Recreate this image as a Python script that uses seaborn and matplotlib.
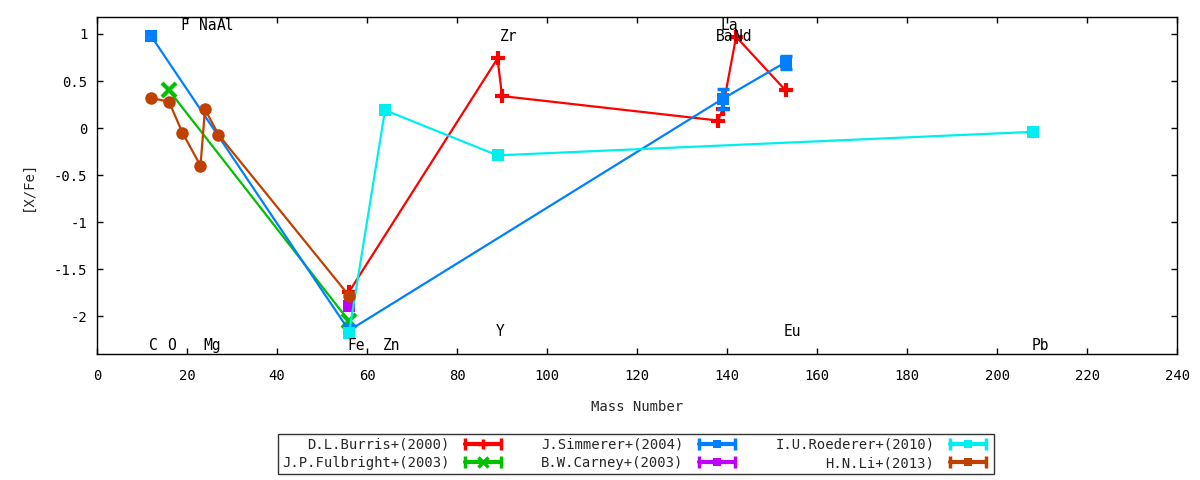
import matplotlib
matplotlib.use('Agg')
import matplotlib.pyplot as plt
import seaborn as sns
import pandas as pd
from matplotlib.lines import Line2D
from matplotlib.legend_handler import HandlerLine2D, HandlerTuple

# [X/Fe] against mass number, one list pair per paper
burris_mass = [56, 89, 90, 138, 139, 142, 153]
burris_xfe = [-1.74, 0.74, 0.34, 0.08, 0.20, 0.97, 0.40]

fulbright_mass = [16, 56]
fulbright_xfe = [0.40, -2.05]

simmerer_mass = [12, 56, 139, 153]
simmerer_xfe = [0.98, -2.15, 0.31, 0.70]
simmerer_err = [0.0, 0.0, 0.11, 0.07]

carney_mass = [56]
carney_xfe = [-1.89]

roederer_mass = [56, 64, 89, 208]
roederer_xfe = [-2.18, 0.19, -0.29, -0.04]

li_mass = [12, 16, 19, 23, 24, 27, 56]
li_xfe = [0.32, 0.28, -0.05, -0.40, 0.20, -0.07, -1.78]

# element labels: name, mass number, height
elem_names = ['C', 'O', 'F', 'Na', 'Mg', 'Al', 'Fe', 'Zn', 'Y', 'Zr',
              'Ba', 'La', 'Nd', 'Eu', 'Pb']
elem_mass = [12, 16, 19, 23, 24, 27, 56, 64, 89, 90, 138, 139, 142, 153, 208]
elem_y = [-2.31, -2.31, 1.085, 1.085, -2.31, 1.085, -2.31, -2.31, -2.16, 0.97,
          0.97, 1.085, 0.97, -2.16, -2.31]

series = [
    ('D.L.Burris+(2000)', burris_mass, burris_xfe, '#ff0000', '+'),
    ('J.P.Fulbright+(2003)', fulbright_mass, fulbright_xfe, '#00c000', 'x'),
    ('J.Simmerer+(2004)', simmerer_mass, simmerer_xfe, '#0080ff', 's'),
    ('B.W.Carney+(2003)', carney_mass, carney_xfe, '#c000ff', 's'),
    ('I.U.Roederer+(2010)', roederer_mass, roederer_xfe, '#00eeee', 's'),
    ('H.N.Li+(2013)', li_mass, li_xfe, '#c04000', 'o'),
]

sns.set_theme(style='ticks')
plt.rcParams['font.family'] = ['DejaVu Sans Mono']
plt.rcParams['font.size'] = 9.5

fig = plt.figure(figsize=(12, 4.8), dpi=100)
ax = fig.add_axes([0.0808, 0.2625, 0.9002, 0.7021])

handles = []
labels = []
hmap = {}
for name, mass, xfe, col, mk in series:
    df = pd.DataFrame({'mass': mass, 'xfe': xfe})
    sns.lineplot(data=df, x='mass', y='xfe', color=col, sort=False,
                 estimator=None, linewidth=1.6, ax=ax)
    if mk in ('+', 'x'):
        ax.plot(mass, xfe, linestyle='none', marker=mk, color=col,
                markersize=10, markeredgewidth=3)
    else:
        ax.plot(mass, xfe, linestyle='none', marker=mk, color=col,
                markersize=9 if mk == 'o' else 8.5, markeredgewidth=0)
    # gnuplot-like key sample: bar with caps at ends, marker in the middle
    cap_line = Line2D([], [], color=col, linewidth=3, marker='|',
                      markersize=8, markeredgewidth=2.5)
    if mk in ('+', 'x'):
        mid = Line2D([], [], color=col, linestyle='none', marker=mk,
                     markersize=7, markeredgewidth=2.5)
    else:
        mid = Line2D([], [], color=col, linestyle='none', marker='s',
                     markersize=6, markeredgewidth=0)
    hmap[cap_line] = HandlerLine2D(numpoints=2)
    hmap[mid] = HandlerLine2D(numpoints=1)
    handles.append((cap_line, mid))
    labels.append(name)

# error bars on the Simmerer heavy elements
ax.errorbar(simmerer_mass[2:], simmerer_xfe[2:], yerr=simmerer_err[2:], fmt='none',
            ecolor='#0080ff', elinewidth=3, capsize=4, capthick=2.5)

for nm, m, yy in zip(elem_names, elem_mass, elem_y):
    ax.text(m - 0.4, yy, nm, ha='left', va='center', fontsize=10.5, color='black')

ax.set_xlim(0, 240)
ax.set_ylim(-2.4, 1.18)
ax.set_xticks(range(0, 241, 20))
ax.set_yticks([-2, -1.5, -1, -0.5, 0, 0.5, 1])
ax.set_yticklabels(['-2', '-1.5', '-1', '-0.5', '0', '0.5', '1'])
ax.tick_params(axis='both', which='both', direction='in', length=4, width=1,
               top=True, right=True, labelsize=10, colors='black', pad=7)
ax.tick_params(axis='x', pad=11)
for s in ax.spines.values():
    s.set_color('black')
    s.set_linewidth(1)
ax.set_xlabel('Mass Number', fontsize=10, labelpad=12)
ax.set_ylabel('[X/Fe]', fontsize=10, labelpad=14)

hmap[tuple] = HandlerTuple(ndivide=1)
leg = fig.legend(handles, labels, ncol=3, loc='center', bbox_to_anchor=(0.53, 0.054),
                 markerfirst=False, frameon=True, fancybox=False, fontsize=10,
                 handler_map=hmap, handlelength=3.2, columnspacing=2.6,
                 labelspacing=0.3, borderpad=0.3, handletextpad=0.8)
leg.get_frame().set_edgecolor('black')
leg.get_frame().set_linewidth(1)

plt.savefig('out.png', dpi=100)
